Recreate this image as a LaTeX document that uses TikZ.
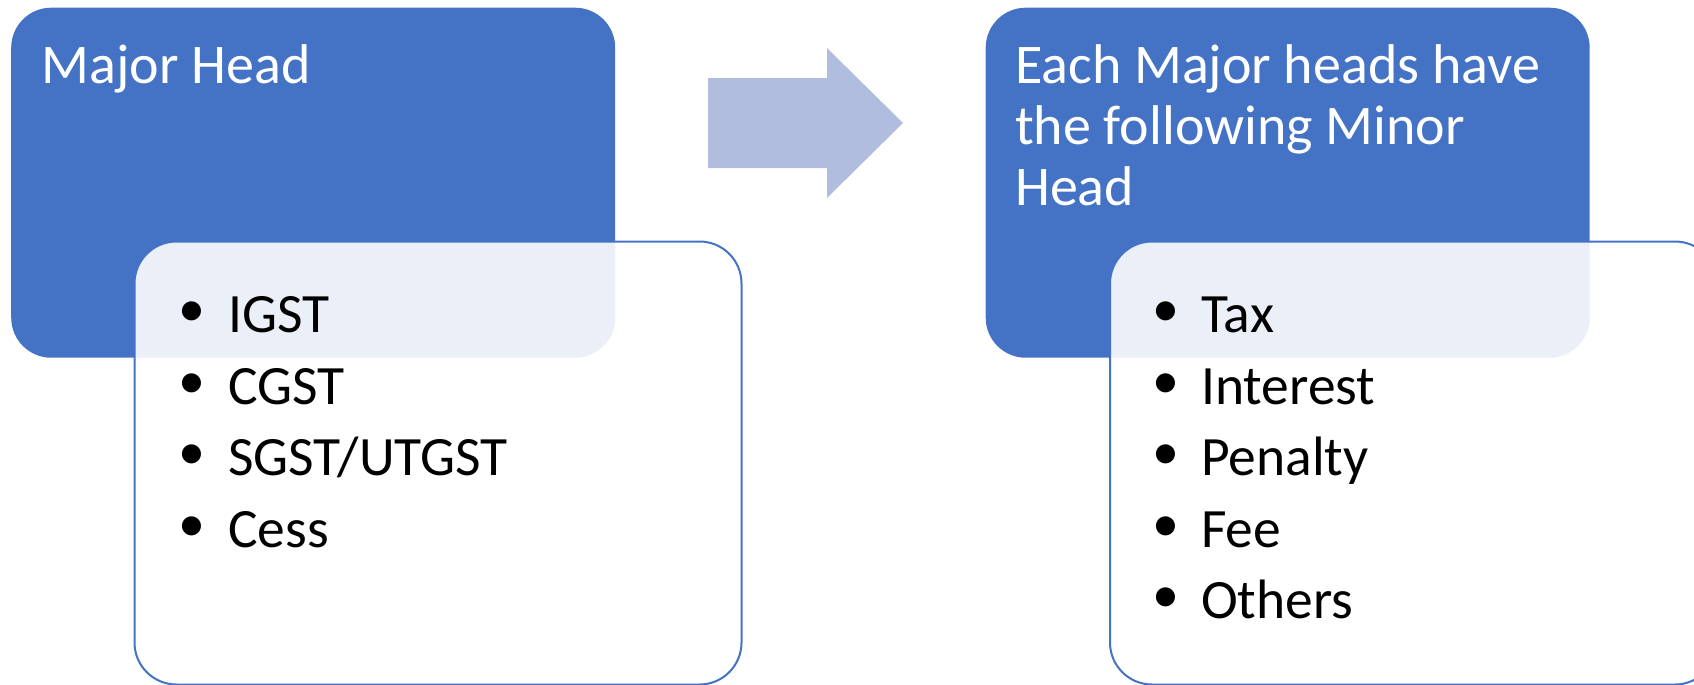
\documentclass[tikz,border=0pt]{standalone}
\usepackage{fontspec}
\setmainfont{Carlito}
\definecolor{mainblue}{HTML}{4472C4}
\definecolor{arrowblue}{HTML}{B0BDDF}
\begin{document}
\begin{tikzpicture}[x=1pt,y=-1pt,
  headbox/.style={fill=mainblue, rounded corners=40pt, inner sep=0pt, anchor=north west, minimum width=604pt, minimum height=350pt},
  listbox/.style={draw=mainblue, line width=2pt, fill=white, fill opacity=0.89, rounded corners=42pt, inner sep=0pt, anchor=north west, minimum width=607pt, minimum height=443pt},
  headtext/.style={text=white, font=\fontsize{56}{61}\selectfont, inner sep=0pt, anchor=base west},
  itemtext/.style={text=black, font=\fontsize{55.5}{64}\selectfont, inner sep=0pt, anchor=base west},
  bulletmark/.style={text=black, font=\fontsize{54}{64}\selectfont, inner sep=0pt, anchor=center}]
\useasboundingbox (0,0) rectangle (1694,685);
\clip (0,0) rectangle (1694,685);
% left group
\node[headbox] (h1) at (11,7.5) {};
\node[listbox] (l1) at (133.5,240.5) {};
\node[headtext] (t1) at (41.5,83) {Major Head};
\foreach \y/\txt/\nm in {332/IGST/a1,404/CGST/a2,475/SGST\slash UTGST/a3,547/Cess/a4}{
  \node[bulletmark] (\nm b) at (192,314.5-332+\y) {•};
  \node[itemtext] (\nm) at (228,\y) {\txt};
}
% arrow
\fill[arrowblue] (708,78) -- (827,78) -- (827,48) -- (903,123) -- (827,198) -- (827,168) -- (708,168) -- cycle;
% right group
\node[headbox] (h2) at (985.5,7.5) {};
\node[listbox] (l2) at (1109,240.5) {};
\node[headtext] (t2a) at (1015,83) {Each Major heads have};
\node[headtext] (t2b) at (1015,144) {the following Minor};
\node[headtext] (t2c) at (1015,205) {Head};
\foreach \y/\txt/\nm in {332/Tax/c1,404/Interest/c2,475/Penalty/c3,547/Fee/c4,618/Others/c5}{
  \node[bulletmark] (\nm b) at (1166,314.5-332+\y) {•};
  \node[itemtext] (\nm) at (1201,\y) {\txt};
}
\end{tikzpicture}
\end{document}
